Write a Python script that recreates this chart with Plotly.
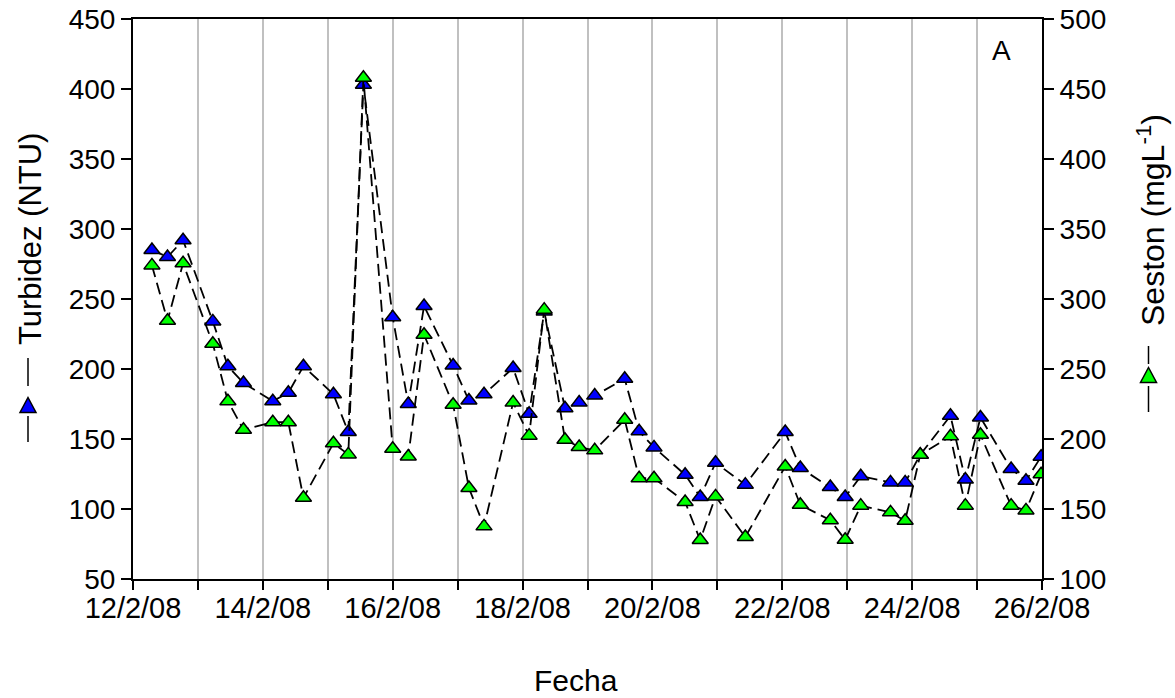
import plotly.graph_objects as go

# ---- data ----
fechas = [
    "2008-02-12 07:00", "2008-02-12 12:45", "2008-02-12 18:30",
    "2008-02-13 05:30", "2008-02-13 11:05", "2008-02-13 16:50",
    "2008-02-14 03:40", "2008-02-14 09:25", "2008-02-14 15:00",
    "2008-02-15 02:05", "2008-02-15 07:35", "2008-02-15 13:10",
    "2008-02-16 00:00", "2008-02-16 05:45", "2008-02-16 11:35",
    "2008-02-16 22:20", "2008-02-17 04:10", "2008-02-17 09:45",
    "2008-02-17 20:30", "2008-02-18 02:25", "2008-02-18 08:00",
    "2008-02-18 15:40", "2008-02-18 20:55", "2008-02-19 02:40",
    "2008-02-19 13:45", "2008-02-19 19:05", "2008-02-20 00:35",
    "2008-02-20 12:05", "2008-02-20 17:40", "2008-02-20 23:20",
    "2008-02-21 10:20", "2008-02-22 01:05", "2008-02-22 06:40",
    "2008-02-22 17:45", "2008-02-22 23:15", "2008-02-23 05:00",
    "2008-02-23 16:00", "2008-02-23 21:25", "2008-02-24 03:00",
    "2008-02-24 14:10", "2008-02-24 19:40", "2008-02-25 01:15",
    "2008-02-25 12:35", "2008-02-25 18:05", "2008-02-25 23:40",
]
turbidez = [
    285, 280, 292, 234, 202, 190, 177, 183, 202, 182, 155, 403,
    237, 175, 245, 202.5, 177.5, 182, 200.7, 168, 241, 172, 176, 181,
    193, 155.5, 144, 124.5, 108.6, 133, 117.4, 155, 129.3, 115.7, 108.6,
    123.4, 119, 119, 138.8, 166.6, 121, 165.4, 128.6, 120.2, 137.4,
]
seston = [
    324, 284.5, 325.5, 268, 227, 206.6, 212, 212, 158, 197, 189, 458,
    193, 187.5, 274.5, 224.5, 165, 137.6, 226, 202.4, 292.4, 199.5, 194.3, 191.9,
    213.8, 172, 172, 155, 127.8, 159, 130, 180.4, 153, 142, 128,
    152.4, 147.6, 141.6, 188.8, 201.9, 152.4, 203, 152.4, 149, 174.8,
]
tick_dates = ["2008-02-%02d" % d for d in range(12, 27)]
tick_labels = ["%d/2/08" % d if d % 2 == 0 else "" for d in range(12, 27)]

FONT = "Liberation Sans, Arial, sans-serif"
BLUE = "#0000FF"
GREEN = "#00FF00"
DASH = "12px,6px"

W, H = 1175, 698
L, R, T, B = 133, 1042, 19, 579
PW, PH = R - L, B - T


def px(x):
    return (x - L) / PW


def py(y):
    return (B - y) / PH


fig = go.Figure()
fig.add_trace(go.Scatter(
    x=fechas, y=turbidez, mode="lines+markers", name="Turbidez",
    line=dict(color="black", width=1.8, dash=DASH),
    marker=dict(symbol="triangle-up", size=14, color=BLUE,
                line=dict(color="black", width=1.5)),
    yaxis="y"))
fig.add_trace(go.Scatter(
    x=fechas, y=seston, mode="lines+markers", name="Seston",
    line=dict(color="black", width=1.8, dash=DASH),
    marker=dict(symbol="triangle-up", size=14, color=GREEN,
                line=dict(color="black", width=1.5)),
    yaxis="y2"))

fig.update_layout(
    width=W, height=H,
    margin=dict(l=L, r=W - R, t=T, b=H - B, pad=0),
    paper_bgcolor="white", plot_bgcolor="white",
    showlegend=False,
    font=dict(family=FONT, size=26, color="black"),
    xaxis=dict(
        type="date", range=["2008-02-12", "2008-02-26"],
        tickmode="array", tickvals=tick_dates, ticktext=tick_labels,
        ticks="outside", ticklen=9, tickwidth=2, tickcolor="black",
        ticklabelstandoff=-7,
        showline=True, linecolor="black", linewidth=2, mirror=True,
        showgrid=True, gridcolor="#c0c0c0", gridwidth=1.5,
        zeroline=False, automargin=False, tickfont=dict(size=29)),
    yaxis=dict(
        range=[50, 450], tickmode="linear", tick0=50, dtick=50,
        ticks="outside", ticklen=10, tickwidth=2, tickcolor="black",
        showline=True, linecolor="black", linewidth=2,
        showgrid=False, zeroline=False, automargin=False,
        tickfont=dict(size=28)),
    yaxis2=dict(
        range=[100, 500], tickmode="linear", tick0=100, dtick=50,
        overlaying="y", side="right",
        ticks="outside", ticklen=10, tickwidth=2, tickcolor="black",
        showline=True, linecolor="black", linewidth=2,
        showgrid=False, zeroline=False, automargin=False,
        tickfont=dict(size=28)),
)

annotations = [
    dict(text="Turbidez (NTU)", x=px(30), y=py(239), textangle=-90, size=31),
    dict(text="Seston (mgL<sup>-1</sup>)", x=px(1151), y=py(220), textangle=-90, size=32),
    dict(text="Fecha", x=px(576), y=py(680), size=30),
    dict(text="A", x=px(1001), y=py(50), size=28),
]
for a in annotations:
    s = a.pop("size")
    a.update(xref="paper", yref="paper", showarrow=False,
             xanchor="center", yanchor="middle",
             font=dict(family=FONT, size=s, color="black"))
fig.update_layout(annotations=annotations)

# legend-like symbols next to the axis titles
shapes = []
for cx, cy, color, y0, y1, y2, y3 in [
    (28, 405, BLUE, 358, 386, 416, 442),
    (1148.5, 375, GREEN, 346, 364, 386, 412),
]:
    for a0, a1 in [(y0, y1), (y2, y3)]:
        shapes.append(dict(type="line", xref="paper", yref="paper",
                           x0=px(cx), x1=px(cx), y0=py(a0), y1=py(a1),
                           line=dict(color="black", width=1.5)))
    hw, hh = 8, 7.5
    path = "M %f %f L %f %f L %f %f Z" % (
        px(cx - hw), py(cy + hh), px(cx + hw), py(cy + hh), px(cx), py(cy - hh))
    shapes.append(dict(type="path", xref="paper", yref="paper", path=path,
                       fillcolor=color, line=dict(color="black", width=1.5)))
fig.update_layout(shapes=shapes)

fig.write_html(
    "out.html",
    config={"displayModeBar": False},
    post_script="document.body.style.margin='0';document.body.style.padding='0';",
)
